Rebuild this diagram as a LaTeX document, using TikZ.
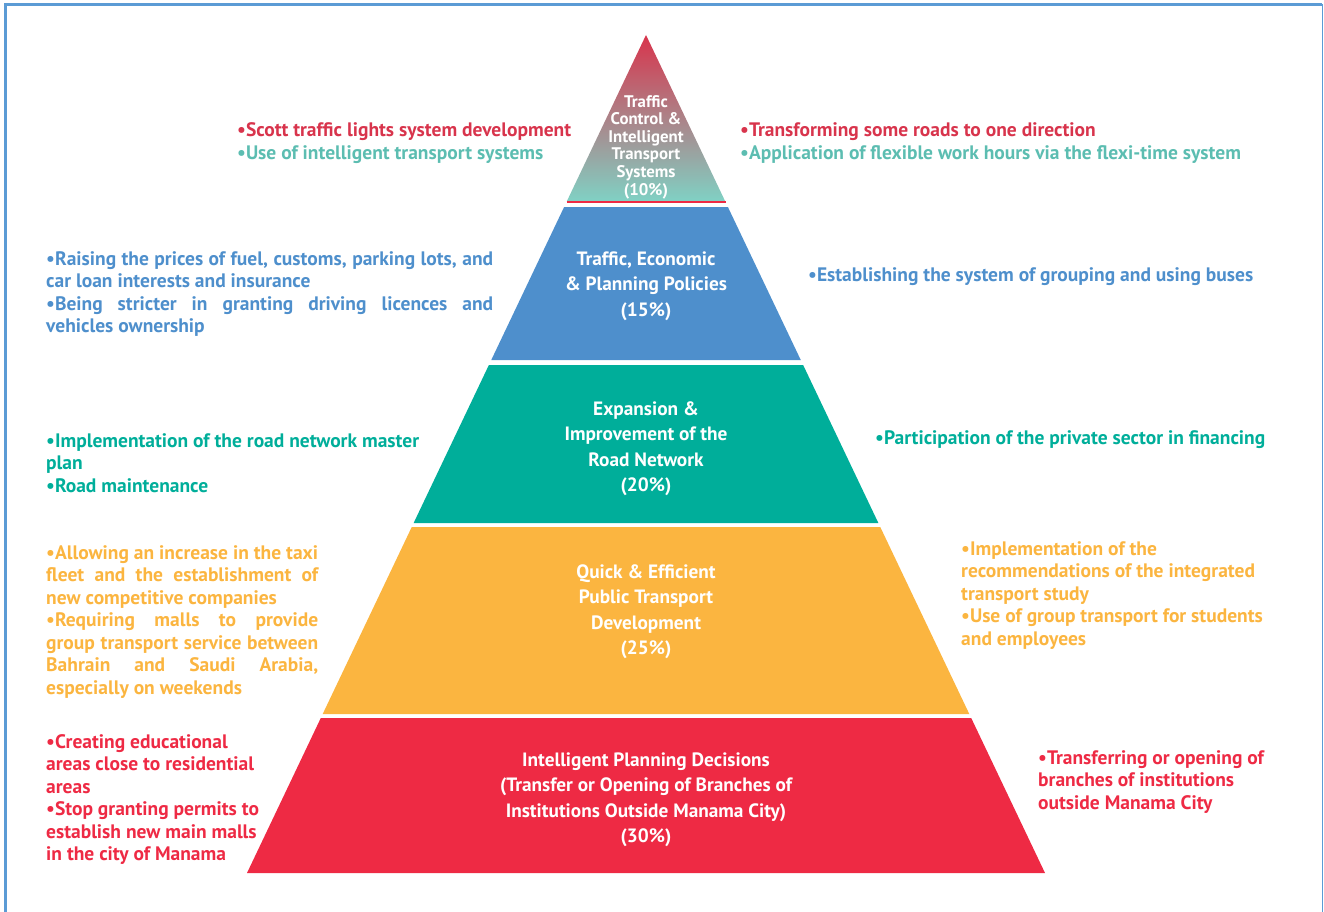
\documentclass[tikz,border=0pt]{standalone}
\usepackage{fontspec}
\setmainfont{PT Sans}
\definecolor{frameblue}{HTML}{5B9BD5}
\definecolor{topred}{HTML}{D8344C}
\definecolor{topteal}{HTML}{80D1C4}
\definecolor{tealtext}{HTML}{5CBDB1}
\definecolor{pblue}{HTML}{4E8FCC}
\definecolor{pteal}{HTML}{00AE9A}
\definecolor{porange}{HTML}{FBB540}
\definecolor{pred}{HTML}{EE2A44}
\newcommand\jst[2]{\makebox[#1][s]{#2}}
\newcommand\pyrlayer[3]{%
  \pgfmathsetmacro\hwa{0.47613*(#1-35)}%
  \pgfmathsetmacro\hwb{0.47613*(#2-35)}%
  \fill[#3] (646-\hwa,#1) -- (646+\hwa,#1) -- (646+\hwb,#2) -- (646-\hwb,#2) -- cycle;}
\begin{document}
\begin{tikzpicture}[x=1pt,y=-1pt,
  side/.style={anchor=base west, inner sep=0pt, align=left, font=\bfseries\fontsize{19.5}{22.5}\selectfont},
  inner/.style={anchor=base, inner sep=0pt, align=center, text=white, font=\bfseries\fontsize{19.3}{25.5}\selectfont},
  small/.style={inner, font=\bfseries\fontsize{16.8}{17.6}\selectfont}]
\useasboundingbox (0,0) rectangle (1324,912);
% frame
\draw[frameblue, line width=3pt] (5.5,912) -- (5.5,4.5) -- (1322,4.5);
\draw[frameblue, line width=1.2pt] (1322.8,4.5) -- (1322.8,912);
% pyramid
\shade[top color=topred, bottom color=topteal] (646,35) -- (725.04,201) -- (566.96,201) -- cycle;
\draw[pred, line width=1.2pt] (566.5,202) -- (725.5,202);
\pyrlayer{207}{360}{pblue}
\pyrlayer{365}{523}{pteal}
\pyrlayer{527}{714}{porange}
\pyrlayer{718}{873}{pred}
% inner texts (anchored at the baseline of the last line)
\node[small] (t1) at (646,195) {Traffic\\Control \&\\Intelligent\\Transport\\Systems\\(10\%)};
\node[inner] (t2) at (646,316) {Traffic, Economic\\\& Planning Policies\\(15\%)};
\node[inner] (t3) at (646,491.5) {Expansion \&\\Improvement of the\\Road Network\\(20\%)};
\node[inner] (t4) at (646,654.5) {Quick \& Efficient\\Public Transport\\Development\\(25\%)};
\node[inner] (t5) at (646,842.5) {Intelligent Planning Decisions\\(Transfer or Opening of Branches of\\Institutions Outside Manama City)\\(30\%)};
% side texts (anchored at the baseline of the last line)
\node[side] (l1) at (237,159.5) {\textcolor{topred}{•Scott traffic lights system development}\\\textcolor{tealtext}{•Use of intelligent transport systems}};
\node[side] (r1) at (740,159.5) {\textcolor{topred}{•Transforming some roads to one direction}\\\textcolor{tealtext}{•Application of flexible work hours via the flexi-time system}};
\node[side, text=pblue] (l2) at (46,332.5) {\jst{447pt}{•Raising the prices of fuel, customs, parking lots, and}\\car loan interests and insurance\\\jst{447pt}{•Being stricter in granting driving licences and}\\vehicles ownership};
\node[side, text=pblue] (r2) at (808,281) {•Establishing the system of grouping and using buses};
\node[side, text=pteal] (l3) at (46,492) {•Implementation of the road network master\\plan\\•Road maintenance};
\node[side, text=pteal] (r3) at (875,444) {•Participation of the private sector in financing};
\node[side, text=porange] (l4) at (46,694) {\jst{272pt}{•Allowing an increase in the taxi}\\\jst{272pt}{fleet and the establishment of}\\new competitive companies\\\jst{272pt}{•Requiring malls to provide}\\\jst{272pt}{group transport service between}\\\jst{272pt}{Bahrain and Saudi Arabia,}\\especially on weekends};
\node[side, text=porange] (r4) at (961,645) {•Implementation of the\\recommendations of the integrated\\transport study\\•Use of group transport for students\\and employees};
\node[side, text=pred] (l5) at (46,860.5) {•Creating educational\\areas close to residential\\areas\\•Stop granting permits to\\establish new main malls\\in the city of Manama};
\node[side, text=pred] (r5) at (1038,809) {•Transferring or opening of\\branches of institutions\\outside Manama City};
\end{tikzpicture}
\end{document}
